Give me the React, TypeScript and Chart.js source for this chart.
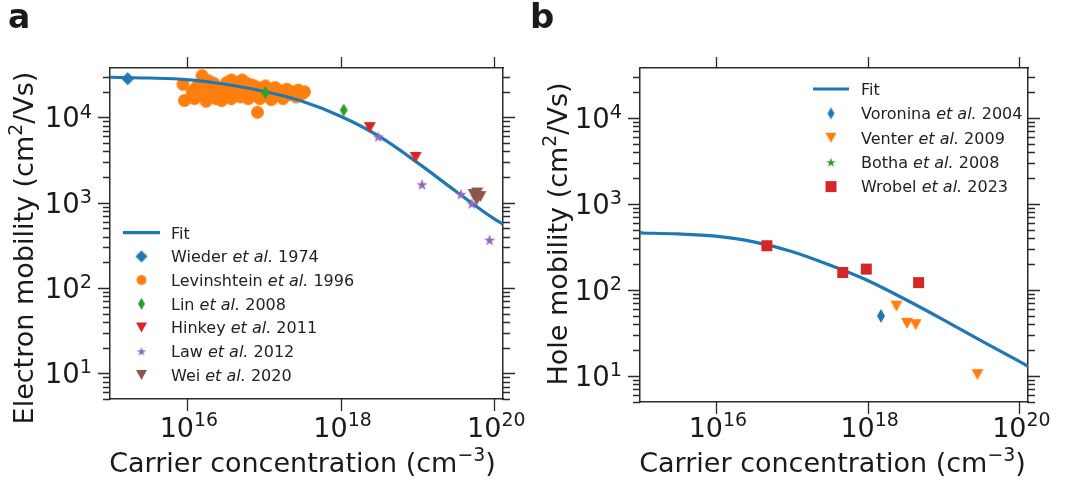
import React, { useEffect, useRef } from 'react';
import { Chart, registerables } from 'chart.js';
Chart.register(...registerables);

const FONT = '"DejaVu Sans", sans-serif';
const TEXT = '#1a1a1a';
const AXIS = '#2b2b2b';
const BLUE = '#1f77b4';
const ORANGE = '#ff7f0e';
const GREEN = '#2ca02c';
const RED = '#d62728';
const PURPLE = '#9467bd';
const BROWN = '#8c564b';

// ---------- shared axes ----------
const xMin = 1e15;
const xMax = 1.3e20;
const yMin = 5;
const yMax = 3.8e4;
const xTickValues = [1e16, 1e18, 1e20];
const xTickExponents = ['16', '18', '20'];
const yTickValues = [1e1, 1e2, 1e3, 1e4];
const yTickExponents = ['1', '2', '3', '4'];
const yDecades = [1, 10, 100, 1000, 10000];
const yMinorMantissas = [2, 3, 4, 5, 6, 7, 8, 9];

// ---------- panel a : electron mobility ----------
const fitAX = [1e15, 3.16e15, 1e16, 3.16e16, 1e17, 3.16e17, 1e18, 3.16e18, 1e19, 3.16e19, 1e20, 1.3e20];
const fitAY = [29600, 29000, 27800, 24500, 20300, 15500, 10350, 6030, 2950, 1365, 646, 562];
const wiederX = [1.7e15];
const wiederY = [28500];
const levinshteinX = [
  8.9e15, 9.3e15, 1.17e16, 1.26e16, 1.58e16, 1.51e16, 1.66e16, 1.78e16, 2.0e16, 2.09e16,
  2.24e16, 2.4e16, 2.63e16, 2.82e16, 3.02e16, 3.16e16, 3.31e16, 3.55e16, 3.8e16, 3.98e16,
  4.27e16, 4.47e16, 4.79e16, 5.0e16, 5.25e16, 5.62e16, 6.03e16, 6.3e16, 6.6e16, 7.1e16,
  7.6e16, 7.9e16, 8.5e16, 8.9e16, 9.5e16, 1.0e17, 1.05e17, 1.12e17, 1.2e17, 1.26e17,
  1.32e17, 1.41e17, 1.51e17, 1.66e17, 1.78e17, 2.0e17, 2.14e17, 2.4e17, 2.63e17, 2.82e17,
  3.16e17, 3.39e17, 8.3e16, 1.32e16, 1.9e16, 3.8e16, 5.25e16,
];
const levinshteinY = [
  24500, 15800, 20000, 16600, 30900, 24000, 17800, 15500, 22400, 19000,
  25100, 16600, 20900, 15800, 22900, 18600, 25700, 20000, 16600, 24000,
  18600, 21400, 25700, 17400, 22400, 19500, 25100, 16600, 21400, 24000,
  18600, 22900, 20000, 16600, 21900, 19000, 23400, 17800, 20900, 16200,
  19500, 22400, 18200, 20400, 16600, 21400, 18600, 20000, 17400, 20900,
  19000, 20000, 11500, 22400, 26900, 27500, 27500,
];
const linX = [1.05e17, 1.1e18];
const linY = [19500, 12200];
const hinkeyX = [2.4e18, 9.5e18];
const hinkeyY = [7600, 3400];
const lawX = [3.1e18, 1.15e19, 3.7e19, 5.1e19, 8.7e19];
const lawY = [5960, 1640, 1260, 980, 367];
const weiX = [5.4e19, 6.0e19, 6.6e19, 5.9e19];
const weiY = [1250, 1300, 1180, 1080];
const namesA = ['Wieder', 'Levinshtein', 'Lin', 'Hinkey', 'Law', 'Wei'];
const yearsA = ['1974', '1996', '2008', '2011', '2012', '2020'];

// ---------- panel b : hole mobility ----------
const fitBX = [1e15, 3.16e15, 1e16, 3.16e16, 1e17, 3.16e17, 1e18, 3.16e18, 1e19, 3.16e19, 1e20, 1.3e20];
const fitBY = [460, 449, 422, 363, 280, 195, 129, 77.6, 45.1, 25.7, 14.8, 13.0];
const voroninaX = [1.5e18];
const voroninaY = [50];
const venterX = [2.4e18, 3.3e18, 4.3e18, 2.8e19];
const venterY = [65, 41, 39.5, 10.4];
const bothaX = [9.3e14];
const bothaY = [470];
const wrobelX = [4.7e16, 4.7e17, 9.6e17, 4.7e18];
const wrobelY = [327, 160, 175, 122];
const namesB = ['Voronina', 'Venter', 'Botha', 'Wrobel'];
const yearsB = ['2004', '2009', '2008', '2023'];

type Run = { t: string; sup?: boolean; it?: boolean };

function mk(shape: string, color: string, w: number, h: number = w): HTMLCanvasElement {
  const c = document.createElement('canvas');
  const cw = Math.ceil(w) + 2;
  const ch = Math.ceil(h) + 2;
  c.width = cw;
  c.height = ch;
  const g = c.getContext('2d')!;
  const cx = cw / 2;
  const cy = ch / 2;
  g.fillStyle = color;
  g.beginPath();
  if (shape === 'o') {
    g.arc(cx, cy, w / 2, 0, Math.PI * 2);
  } else if (shape === 'D' || shape === 'd') {
    g.moveTo(cx, cy - h / 2);
    g.lineTo(cx + w / 2, cy);
    g.lineTo(cx, cy + h / 2);
    g.lineTo(cx - w / 2, cy);
    g.closePath();
  } else if (shape === 'v') {
    g.moveTo(cx - w / 2, cy - h / 2);
    g.lineTo(cx + w / 2, cy - h / 2);
    g.lineTo(cx, cy + h / 2);
    g.closePath();
  } else if (shape === 's') {
    g.rect(cx - w / 2, cy - h / 2, w, h);
  } else if (shape === '*') {
    const R = w / 2;
    const r = R * 0.382;
    for (let k = 0; k < 10; k++) {
      const a = -Math.PI / 2 + (k * Math.PI) / 5;
      const rr = k % 2 ? r : R;
      const px = cx + rr * Math.cos(a);
      const py = cy + rr * Math.sin(a) + R * 0.1;
      if (k === 0) g.moveTo(px, py);
      else g.lineTo(px, py);
    }
    g.closePath();
  }
  g.fill();
  return c;
}

function drawRuns(
  ctx: CanvasRenderingContext2D,
  runs: Run[],
  x: number,
  y: number,
  size: number,
  align: 'left' | 'center' | 'right',
  raise = 0.4,
  weight = 'normal'
) {
  const fontFor = (r: Run) => `${r.it ? 'italic ' : ''}${weight} ${r.sup ? size * 0.7 : size}px ${FONT}`;
  let total = 0;
  const ws = runs.map((r) => {
    ctx.font = fontFor(r);
    const w = ctx.measureText(r.t).width;
    total += w;
    return w;
  });
  let cx = align === 'left' ? x : align === 'center' ? x - total / 2 : x - total;
  ctx.textAlign = 'left';
  ctx.textBaseline = 'alphabetic';
  runs.forEach((r, i) => {
    ctx.font = fontFor(r);
    ctx.fillText(r.t, cx, r.sup ? y - size * raise : y);
    cx += ws[i];
  });
}

type LegendEntry = { marker?: HTMLCanvasElement; line?: string; runs: Run[] };

type Decor = {
  panel: string;
  panelX: number;
  panelSize: number;
  yTitle: Run[];
  yTitleX: number;
  yTitleY: number;
  xTitle: Run[];
  xTitleX: number;
  legend: { x0: number; x1: number; mx: number; tx: number; y0: number; dy: number; entries: LegendEntry[] };
};

function decorPlugin(d: Decor) {
  return {
    id: 'decor',
    afterDraw(chart: any) {
      const ctx: CanvasRenderingContext2D = chart.ctx;
      const ca = chart.chartArea;
      const xs = chart.scales.x;
      const ys = chart.scales.y;
      ctx.save();
      // tick marks
      ctx.strokeStyle = AXIS;
      ctx.lineWidth = 1.3;
      ctx.beginPath();
      xTickValues.forEach((v) => {
        const px = Math.round(xs.getPixelForValue(v)) + 0.5;
        ctx.moveTo(px, ca.top);
        ctx.lineTo(px, ca.top - 11);
        ctx.moveTo(px, ca.bottom);
        ctx.lineTo(px, ca.bottom + 12);
      });
      yDecades.forEach((dec) => {
        [1, ...yMinorMantissas].forEach((m) => {
          const v = m * dec;
          if (v < yMin || v > yMax) return;
          const py = Math.round(ys.getPixelForValue(v)) + 0.5;
          const len = m === 1 ? 12 : 7;
          ctx.moveTo(ca.left, py);
          ctx.lineTo(ca.left - len, py);
          ctx.moveTo(ca.right, py);
          ctx.lineTo(ca.right + len, py);
        });
      });
      ctx.stroke();

      ctx.fillStyle = TEXT;
      // x tick labels
      xTickValues.forEach((v, i) => {
        const px = xs.getPixelForValue(v);
        drawRuns(ctx, [{ t: '10' }, { t: xTickExponents[i], sup: true }], px + 2, 437, 27, 'center', 0.42);
      });
      // y tick labels
      yTickValues.forEach((v, i) => {
        const py = ys.getPixelForValue(v);
        drawRuns(ctx, [{ t: '10' }, { t: yTickExponents[i], sup: true }], ca.left - 18, py + 10, 27.5, 'right', 0.36);
      });
      // axis titles
      drawRuns(ctx, d.xTitle, d.xTitleX, 472, 27, 'center', 0.42);
      ctx.save();
      ctx.translate(d.yTitleX, d.yTitleY);
      ctx.rotate(-Math.PI / 2);
      drawRuns(ctx, d.yTitle, 0, 0, 27, 'center', 0.42);
      ctx.restore();
      // panel letter
      drawRuns(ctx, [{ t: d.panel }], d.panelX, 28, d.panelSize, 'left', 0, 'bold');
      // legend
      const L = d.legend;
      L.entries.forEach((e, i) => {
        const y = L.y0 + i * L.dy;
        if (e.line) {
          ctx.strokeStyle = e.line;
          ctx.lineWidth = 3.2;
          ctx.beginPath();
          ctx.moveTo(L.x0, y);
          ctx.lineTo(L.x1, y);
          ctx.stroke();
        }
        if (e.marker) {
          ctx.drawImage(e.marker, L.mx - e.marker.width / 2, y - e.marker.height / 2);
        }
        ctx.fillStyle = '#222';
        drawRuns(ctx, e.runs, L.tx, y + 5.8, 16, 'left');
      });
      ctx.restore();
    },
  };
}

const pts = (xs: number[], ys: number[]) => xs.map((x, i) => ({ x, y: ys[i] }));

function scatterSet(xs: number[], ys: number[], marker: HTMLCanvasElement, order: number) {
  return {
    data: pts(xs, ys),
    pointStyle: marker,
    pointRadius: 6,
    pointHoverRadius: 6,
    showLine: false,
    order,
    clip: 0,
  };
}

function fitSet(xs: number[], ys: number[]) {
  return {
    type: 'line',
    data: pts(xs, ys),
    borderColor: BLUE,
    backgroundColor: BLUE,
    borderWidth: 3.2,
    pointRadius: 0,
    fill: false,
    cubicInterpolationMode: 'monotone',
    order: 2,
    clip: 0,
  };
}

function scales(rightW: number, bottomH: number) {
  const common = (position: string, fit: (s: any) => void) => ({
    type: 'logarithmic',
    position,
    display: true,
    grid: { display: false, drawTicks: false },
    ticks: { display: false },
    border: { display: true, color: AXIS, width: 1.5 },
    afterFit: fit,
  });
  return {
    x: { ...common('bottom', (s: any) => { s.height = bottomH; }), min: xMin, max: xMax },
    x2: { ...common('top', (s: any) => { s.height = 68; }), min: xMin, max: xMax },
    y: { ...common('left', (s: any) => { s.width = 110; }), min: yMin, max: yMax },
    y2: { ...common('right', (s: any) => { s.width = rightW; }), min: yMin, max: yMax },
  };
}

const xTitleRuns: Run[] = [{ t: 'Carrier concentration (cm' }, { t: '\u22123', sup: true }, { t: ')' }];

function etAl(name: string, year: string): Run[] {
  return [{ t: name + ' ' }, { t: 'et al.', it: true }, { t: ' ' + year }];
}

function configA() {
  const mWieder = mk('D', BLUE, 13);
  const mLev = mk('o', ORANGE, 13);
  const mLin = mk('d', GREEN, 8, 13);
  const mHinkey = mk('v', RED, 12, 11);
  const mLaw = mk('*', PURPLE, 12);
  const mWei = mk('v', BROWN, 12, 11);
  const legendMarkers = [
    mk('D', BLUE, 12),
    mk('o', ORANGE, 10),
    mk('d', GREEN, 7, 12),
    mk('v', RED, 11, 10),
    mk('*', PURPLE, 10),
    mk('v', BROWN, 11, 10),
  ];
  const decor: Decor = {
    panel: 'a',
    panelX: 8,
    panelSize: 33,
    yTitle: [{ t: 'Electron mobility (cm' }, { t: '2', sup: true }, { t: '/Vs)' }],
    yTitleX: 33,
    yTitleY: 248,
    xTitle: xTitleRuns,
    xTitleX: 302.5,
    legend: {
      x0: 123, x1: 160, mx: 141.5, tx: 171, y0: 232.7, dy: 23.7,
      entries: [
        { line: BLUE, runs: [{ t: 'Fit' }] },
        ...namesA.map((n, i) => ({ marker: legendMarkers[i], runs: etAl(n, yearsA[i]) })),
      ],
    },
  };
  return {
    type: 'scatter',
    data: {
      datasets: [
        fitSet(fitAX, fitAY),
        scatterSet(wiederX, wiederY, mWieder, 1),
        scatterSet(levinshteinX, levinshteinY, mLev, 3),
        scatterSet(linX, linY, mLin, 1),
        scatterSet(hinkeyX, hinkeyY, mHinkey, 1),
        scatterSet(lawX, lawY, mLaw, 1),
        scatterSet(weiX, weiY, mWei, 3),
      ],
    },
    options: {
      animation: false,
      responsive: false,
      devicePixelRatio: 1,
      events: [],
      layout: { padding: 0 },
      plugins: { legend: { display: false }, tooltip: { enabled: false }, title: { display: false } },
      scales: scales(27, 85),
    },
    plugins: [decorPlugin(decor)],
  };
}

function configB() {
  const mVor = mk('d', BLUE, 8, 14);
  const mVen = mk('v', ORANGE, 12, 11);
  const mBot = mk('*', GREEN, 12);
  const mWro = mk('s', RED, 11);
  const legendMarkers = [mk('d', BLUE, 7, 12), mk('v', ORANGE, 11, 10), mk('*', GREEN, 10), mk('s', RED, 11)];
  const decor: Decor = {
    panel: 'b',
    panelX: 0,
    panelSize: 34,
    yTitle: [{ t: 'Hole mobility (cm' }, { t: '2', sup: true }, { t: '/Vs)' }],
    yTitleX: 37,
    yTitleY: 234,
    xTitle: xTitleRuns,
    xTitleX: 302.5,
    legend: {
      x0: 283, x1: 319, mx: 301, tx: 331, y0: 89, dy: 24.4,
      entries: [
        { line: BLUE, runs: [{ t: 'Fit' }] },
        ...namesB.map((n, i) => ({ marker: legendMarkers[i], runs: etAl(n, yearsB[i]) })),
      ],
    },
  };
  return {
    type: 'scatter',
    data: {
      datasets: [
        fitSet(fitBX, fitBY),
        scatterSet(voroninaX, voroninaY, mVor, 1),
        scatterSet(venterX, venterY, mVen, 1),
        scatterSet(bothaX, bothaY, mBot, 1),
        scatterSet(wrobelX, wrobelY, mWro, 1),
      ],
    },
    options: {
      animation: false,
      responsive: false,
      devicePixelRatio: 1,
      events: [],
      layout: { padding: 0 },
      plugins: { legend: { display: false }, tooltip: { enabled: false }, title: { display: false } },
      scales: scales(44, 82),
    },
    plugins: [decorPlugin(decor)],
  };
}

function Panel({ left, width, build }: { left: number; width: number; build: () => any }) {
  const ref = useRef<HTMLCanvasElement>(null);
  useEffect(() => {
    const chart = new Chart(ref.current as HTMLCanvasElement, build());
    return () => chart.destroy();
  }, []);
  return (
    <canvas
      ref={ref}
      width={width}
      height={484}
      style={{ position: 'absolute', left, top: 0, width, height: 484 }}
    />
  );
}

export default function App() {
  return (
    <div style={{ position: 'fixed', left: 0, top: 0, width: 1072, height: 484, background: '#fff', overflow: 'hidden' }}>
      <Panel left={0} width={530} build={configA} />
      <Panel left={530} width={542} build={configB} />
    </div>
  );
}
